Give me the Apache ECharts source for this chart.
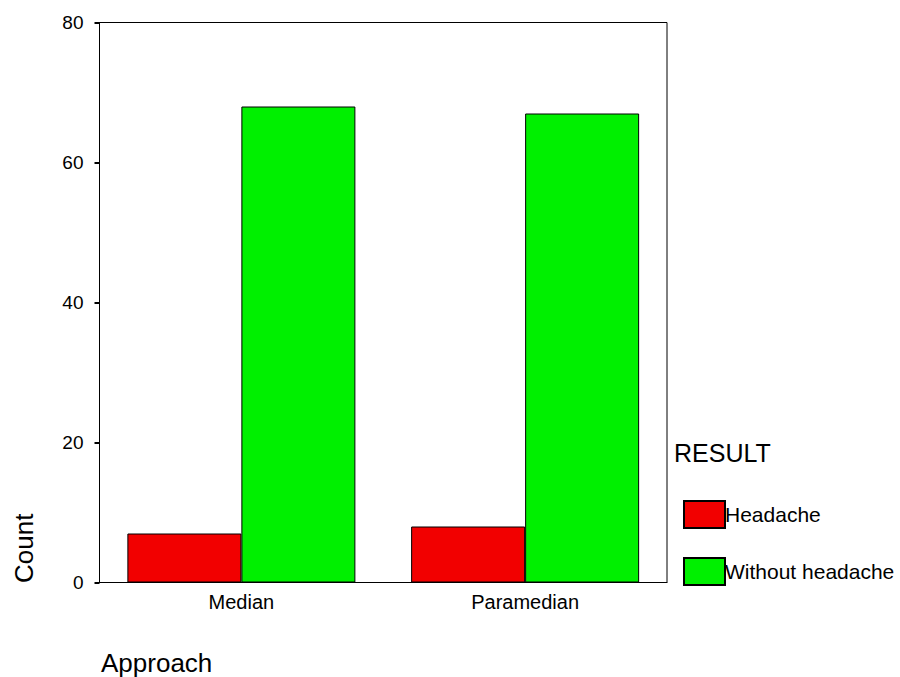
<!DOCTYPE html>
<html>
<head>
<meta charset="utf-8">
<script src="https://cdn.jsdelivr.net/npm/echarts@6/dist/echarts.min.js"></script>
<style>html,body{margin:0;padding:0;background:#fff;}#c{width:900px;height:677px;}</style>
</head>
<body>
<div id="c"></div>
<script>
var categories = ['Median', 'Paramedian'];
var seriesNames = ['Headache', 'Without headache'];
var headache = [7, 8];
var withoutHeadache = [68, 67];
var yTicks = [0, 20, 40, 60, 80];

var chart = echarts.init(document.getElementById('c'), null, {renderer: 'svg'});
var font = 'Arial, "Liberation Sans", sans-serif';
chart.setOption({
  animation: false,
  backgroundColor: '#ffffff',
  grid: {left: 99.5, right: 233, top: 22.5, bottom: 94.5, show: true, borderColor: '#000', borderWidth: 1, backgroundColor: 'transparent'},
  title: {text: 'RESULT', left: 674, top: 440, padding: 0, textStyle: {fontFamily: font, fontSize: 25, fontWeight: 'normal', color: '#000'}},
  legend: {
    orient: 'vertical', left: 683, top: 500, padding: 0, itemWidth: 41, itemHeight: 27, itemGap: 28,
    icon: 'rect', data: seriesNames,
    textStyle: {fontFamily: font, fontSize: 21, color: '#000', padding: [0, 0, 0, -5]}
  },
  xAxis: {
    type: 'category', data: categories,
    axisLine: {lineStyle: {color: '#000', width: 1}},
    axisTick: {alignWithLabel: true, length: 4, lineStyle: {color: '#000', width: 2}},
    axisLabel: {fontFamily: font, fontSize: 20, color: '#000', margin: 9}
  },
  yAxis: {
    type: 'value', min: yTicks[0], max: yTicks[yTicks.length - 1], interval: 20,
    axisLine: {show: true, lineStyle: {color: '#000', width: 1}},
    axisTick: {show: true, length: 5, lineStyle: {color: '#000', width: 2}},
    splitLine: {show: false},
    axisLabel: {fontFamily: font, fontSize: 19, color: '#000', margin: 16}
  },
  graphic: [
    {type: 'text', left: 101, top: 650, style: {text: 'Approach', font: '26px ' + font, fill: '#000'}},
    {type: 'text', x: 11, y: 583, rotation: Math.PI / 2, style: {text: 'Count', font: '26px ' + font, fill: '#000', textAlign: 'left', textVerticalAlign: 'top'}}
  ],
  series: [
    {name: seriesNames[0], type: 'bar', data: headache, barWidth: 114, barGap: '0%',
     itemStyle: {color: '#f20000', borderColor: '#000', borderWidth: 1}},
    {name: seriesNames[1], type: 'bar', data: withoutHeadache, barWidth: 114, barGap: '0%',
     itemStyle: {color: '#00f000', borderColor: '#000', borderWidth: 1}}
  ]
});
</script>
</body>
</html>
